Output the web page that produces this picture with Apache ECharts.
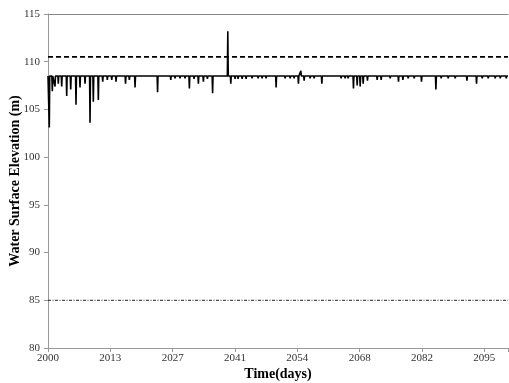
<!DOCTYPE html>
<html><head><meta charset="utf-8">
<script src="https://cdn.jsdelivr.net/npm/echarts@6/dist/echarts.min.js"></script>
<style>html,body{margin:0;padding:0;background:#fff}#c{width:509px;height:383px}</style>
</head><body><div id="c"></div>
<script>
// x in days since 2000
var xTickLabels = ['2000','2013','2027','2041','2054','2068','2082','2095'];
var xMaxDay = 36900;
var normalLevel = 108.5;     // regular operating level (m)
var floodLevel = 110.5;      // dashed line (m)
var deadLevel = 85;          // dash-dot line (m)
// deviations from the normal level: day, level reached
var eventDay = [104,345,562,827,1100,1500,1822,2247,2568,2970,3371,3636,4037,4390,4759,5113,5458,6220,6525,6983,
  7384,7625,7865,8789,9390,9631,9848,10193,10594,10995,11341,11718,12063,12464,12786,13203,14423,14664,
  15008,15249,15570,15891,16372,16854,17175,17496,18299,19022,19423,19744,20089,20282,20547,21028,21348,21967,
  23515,23837,24078,24503,24800,25041,25282,25627,26405,26726,27449,28115,28469,28894,29375,29962,31117,
  31542,32103,32665,33605,34376,34832,35314,35875,36278,36759];
var eventLevel = [103.1,106.9,107.4,107.7,107.4,106.4,107.1,105.5,107.3,107.7,103.6,105.8,106.0,107.9,108.1,108.1,107.9,107.7,108.1,107.3,
  108.3,108.3,108.3,106.8,108.3,108.3,108.1,108.25,108.25,108.25,107.2,108.2,107.7,107.9,108.2,106.7,113.2,107.7,
  108.2,108.2,108.2,108.2,108.25,108.25,108.25,108.25,107.3,108.25,108.25,108.25,107.7,109.05,108.0,108.25,108.25,107.7,
  108.25,108.25,108.25,107.2,107.5,107.4,107.7,108.0,108.1,108.1,108.25,107.9,108.1,108.25,108.25,107.9,107.1,
  108.25,108.25,108.25,108.0,107.7,108.25,108.25,108.25,108.25,108.25];
var eventHalfWidth = 35; // days

var mainData = [[0, normalLevel]];
for (var i = 0; i < eventDay.length; i++) {
  mainData.push([eventDay[i] - eventHalfWidth, normalLevel]);
  mainData.push([eventDay[i], eventLevel[i]]);
  mainData.push([eventDay[i] + eventHalfWidth, normalLevel]);
}
mainData.push([xMaxDay, normalLevel]);

var serif = 'Liberation Serif';
var chart = echarts.init(document.getElementById('c'));
chart.setOption({
  animation: false,
  backgroundColor: '#fff',
  grid: {left: 48, right: 1, top: 14, bottom: 35, containLabel: false, outerBoundsMode: 'none'},
  xAxis: [{
    type: 'value', min: 0, max: xMaxDay, interval: 5000,
    name: 'Time(days)', nameLocation: 'middle', nameGap: 19, nameMoveOverlap: false,
    nameTextStyle: {fontFamily: serif, fontWeight: 'bold', fontSize: 14, color: '#000'},
    axisLine: {show: true, lineStyle: {color: '#999', width: 1}},
    axisTick: {show: true, length: 4, lineStyle: {color: '#999'}},
    axisLabel: {fontFamily: serif, fontSize: 11, color: '#333', margin: 5,
      formatter: function (v) { return v % 5000 === 0 ? (xTickLabels[v / 5000] || '') : ''; }},
    splitLine: {show: false}
  }, {
    type: 'value', min: 0, max: xMaxDay, position: 'top',
    axisLine: {show: true, lineStyle: {color: '#888', width: 1}},
    axisTick: {show: false}, axisLabel: {show: false}, splitLine: {show: false}
  }],
  yAxis: {
    type: 'value', min: 80, max: 115, interval: 5,
    name: 'Water Surface Elevation (m)', nameLocation: 'middle', nameGap: 26, nameMoveOverlap: false,
    nameTextStyle: {fontFamily: serif, fontWeight: 'bold', fontSize: 14, color: '#000'},
    axisLine: {show: true, lineStyle: {color: '#999', width: 1}},
    axisTick: {show: true, length: 4, lineStyle: {color: '#999'}},
    axisLabel: {fontFamily: serif, fontSize: 11, color: '#333', margin: 8},
    splitLine: {show: false}
  },
  series: [{
    type: 'line', data: mainData, showSymbol: false, symbol: 'none',
    lineStyle: {color: '#000', width: 1.6}, z: 3
  }, {
    type: 'line', data: [[0, floodLevel], [xMaxDay, floodLevel]], symbol: 'none',
    lineStyle: {color: '#000', width: 1.8, type: [5, 3]}
  }, {
    type: 'line', data: [[0, deadLevel], [xMaxDay, deadLevel]], symbol: 'none',
    lineStyle: {color: '#222', width: 1, type: [3, 1.5, 1, 1.5]}
  }]
});
</script></body></html>
